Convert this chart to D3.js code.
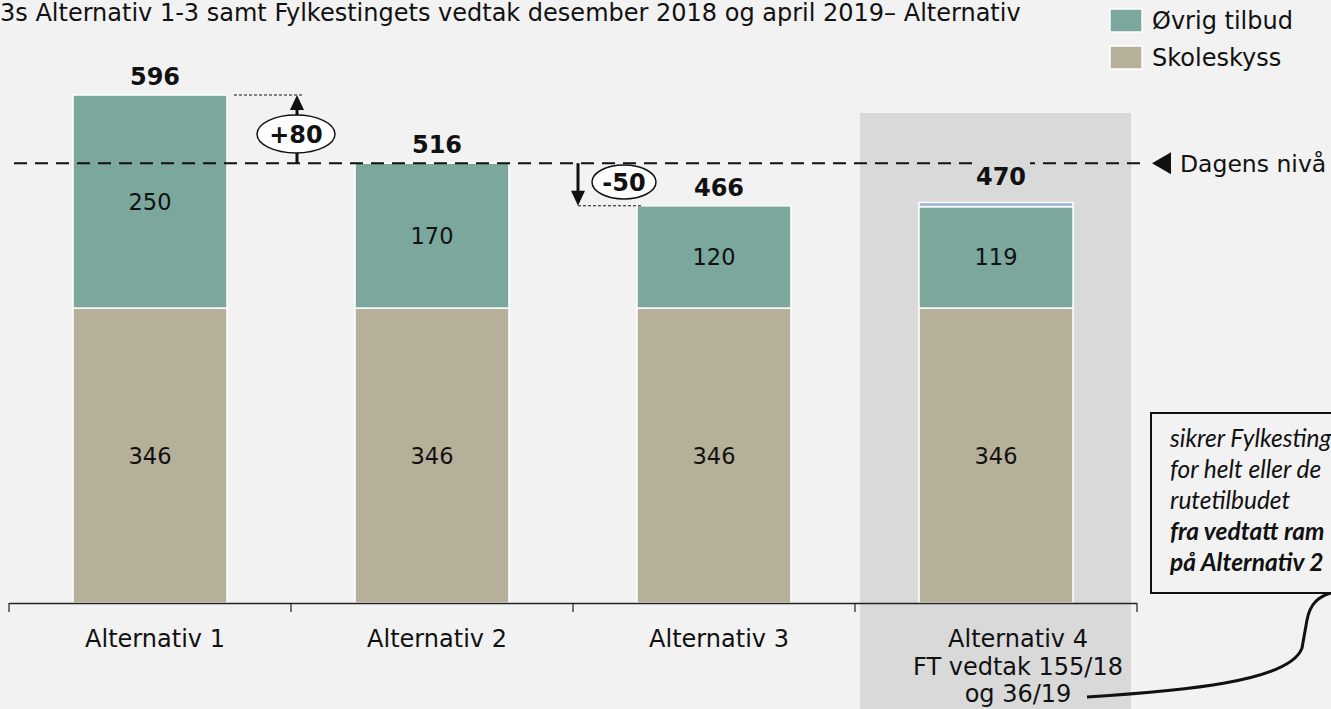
<!DOCTYPE html>
<html>
<head>
<meta charset="utf-8">
<script src="https://cdn.jsdelivr.net/npm/d3@7"></script>
<style>
  body { margin: 0; background: #F2F2F2; overflow: hidden; }
  text { font-family: "DejaVu Sans", Verdana, sans-serif; }
</style>
</head>
<body>
<div id="container"></div>
<script>
let w = 1331;
let h = 709;

// data
let categories = ["Alternativ 1", "Alternativ 2", "Alternativ 3", "Alternativ 4"];
let skoleskyss = [346, 346, 346, 346];
let ovrigTilbud = [250, 170, 120, 119];
let tillegg = [0, 0, 0, 5];
let totals = [596, 516, 466, 470];
let dagensNiva = 516;
let axisLabels = [["Alternativ 1"], ["Alternativ 2"], ["Alternativ 3"], ["Alternativ 4", "FT vedtak 155/18", "og 36/19"]];
let legendLabels = ["Øvrig tilbud", "Skoleskyss"];
let noteLines = [
  { t: "sikrer Fylkesting", b: false },
  { t: "for helt eller de", b: false },
  { t: "rutetilbudet", b: false },
  { t: "fra vedtatt ram", b: true },
  { t: "på Alternativ 2", b: true }
];
let title = "3s Alternativ 1-3 samt Fylkestingets vedtak desember 2018 og april 2019– Alternativ";

let colTeal = "#7BA79D";
let colKhaki = "#B6B09A";
let colBlue = "#9DB9DA";

let viz = d3.select("#container")
  .append("svg")
    .attr("width", w)
    .attr("height", h)
    .style("background-color", "#F2F2F2")
;

let x = d3.scaleBand().domain(categories).range([9, 1137]).padding(0);
let step = x.step();
let barOff = step * 0.227;
let barW = step * 0.546;
let y = d3.scaleLinear().domain([0, 596]).range([603, 95]);

let rows = categories.map((c, i) => ({ cat: c, skole: skoleskyss[i], ovrig: ovrigTilbud[i], extra: tillegg[i] }));
let series = d3.stack().keys(["skole", "ovrig", "extra"])(rows);
let fills = { skole: colKhaki, ovrig: colTeal, extra: colBlue };

// highlight behind alternativ 4
viz.append("rect")
    .attr("x", x(categories[3]) + 5)
    .attr("y", 113)
    .attr("width", step - 11)
    .attr("height", h - 113)
    .attr("fill", "#D9D9D9")
;

// title
viz.append("text")
    .attr("x", 0)
    .attr("y", 21)
    .attr("font-size", 24)
    .attr("fill", "#111")
    .text(title)
;

// bars
let layers = viz.selectAll(".layer").data(series).enter()
  .append("g")
    .attr("class", "layer")
    .attr("fill", d => fills[d.key])
;
layers.selectAll("rect").data(d => d.filter(s => s[1] > s[0])).enter()
  .append("rect")
    .attr("x", d => x(d.data.cat) + barOff)
    .attr("y", d => y(d[1]))
    .attr("width", barW)
    .attr("height", d => y(d[0]) - y(d[1]))
    .attr("stroke", "white")
    .attr("stroke-width", 1.5)
;

// segment labels
series.slice(0, 2).forEach(s => {
  viz.selectAll(null).data(s).enter()
    .append("text")
      .attr("x", d => x(d.data.cat) + step / 2)
      .attr("y", d => (y(d[0]) + y(d[1])) / 2)
      .attr("dy", "0.36em")
      .attr("text-anchor", "middle")
      .attr("font-size", 22.5)
      .attr("fill", "#111")
      .text(d => d[1] - d[0])
  ;
});

// dagens niva line
viz.append("line")
    .attr("x1", 14).attr("x2", 1143)
    .attr("y1", y(dagensNiva)).attr("y2", y(dagensNiva))
    .attr("stroke", "#111")
    .attr("stroke-width", 2)
    .attr("stroke-dasharray", "13,8")
;
viz.append("path")
    .attr("d", `M1152,${y(dagensNiva)} L1171,${y(dagensNiva) - 11} L1171,${y(dagensNiva) + 11} Z`)
    .attr("fill", "#111")
;
viz.append("text")
    .attr("x", 1180)
    .attr("y", y(dagensNiva))
    .attr("dy", "0.36em")
    .attr("font-size", 23.5)
    .attr("fill", "#111")
    .text("Dagens nivå")
;

// total labels
viz.append("rect")
    .attr("x", x(categories[3]) + step / 2 - 24)
    .attr("y", 152)
    .attr("width", 58)
    .attr("height", 38)
    .attr("fill", "#D9D9D9")
;
viz.selectAll(".total").data(totals).enter()
  .append("text")
    .attr("class", "total")
    .attr("x", (d, i) => x(categories[i]) + step / 2 + 5)
    .attr("y", (d, i) => y(d) - (i == 3 ? 17 : 10))
    .attr("text-anchor", "middle")
    .attr("font-size", 24)
    .attr("font-weight", "bold")
    .attr("fill", "#111")
    .text(d => d)
;

// change annotations
function change(i, ax, cx, cy, rx, ry) {
  let tip = y(totals[i]);
  let base = y(dagensNiva);
  let up = totals[i] > dagensNiva;
  let dir = up ? 1 : -1;
  viz.append("line")
      .attr("x1", up ? x(categories[i]) + barOff + barW + 7 : ax)
      .attr("x2", up ? ax + 6 : x(categories[i]) + barOff + 5)
      .attr("y1", tip).attr("y2", tip)
      .attr("stroke", "#111")
      .attr("stroke-width", 1)
      .attr("stroke-dasharray", "3,2")
  ;
  viz.append("line")
      .attr("x1", ax).attr("x2", ax)
      .attr("y1", base).attr("y2", tip + dir * 12)
      .attr("stroke", "#111")
      .attr("stroke-width", 3)
  ;
  viz.append("path")
      .attr("d", `M${ax},${tip} L${ax - 7},${tip + dir * 15} L${ax + 7},${tip + dir * 15} Z`)
      .attr("fill", "#111")
  ;
  viz.append("ellipse")
      .attr("cx", cx).attr("cy", cy)
      .attr("rx", rx).attr("ry", ry)
      .attr("fill", "white")
      .attr("stroke", "#111")
      .attr("stroke-width", 1.5)
  ;
  let diff = totals[i] - dagensNiva;
  viz.append("text")
      .attr("x", cx).attr("y", cy)
      .attr("dy", "0.36em")
      .attr("text-anchor", "middle")
      .attr("font-size", 24)
      .attr("font-weight", "bold")
      .attr("fill", "#111")
      .text((diff > 0 ? "+" : "") + diff)
  ;
}
change(0, 297, 296, 134, 39, 19);
change(2, 578, 624, 182, 32, 17);

// axis
let bounds = categories.map(c => x(c)).concat([x.range()[1]]);
viz.append("line")
    .attr("x1", bounds[0]).attr("x2", bounds[bounds.length - 1])
    .attr("y1", 603.5).attr("y2", 603.5)
    .attr("stroke", "#222")
    .attr("stroke-width", 1.5)
;
viz.selectAll(".tick").data(bounds).enter()
  .append("line")
    .attr("x1", d => d).attr("x2", d => d)
    .attr("y1", 603).attr("y2", 612)
    .attr("stroke", "#222")
    .attr("stroke-width", 1.2)
;
let lab = viz.selectAll(".xlab").data(axisLabels).enter()
  .append("text")
    .attr("class", "xlab")
    .attr("x", (d, i) => x(categories[i]) + step / 2 + (i == 3 ? 22 : 5))
    .attr("y", 647)
    .attr("text-anchor", "middle")
    .attr("font-size", 24)
    .attr("fill", "#111")
;
lab.selectAll("tspan").data(d => d).enter()
  .append("tspan")
    .attr("x", function() { return this.parentNode.getAttribute("x"); })
    .attr("dy", (d, j) => j == 0 ? 0 : 27.5)
    .text(d => d)
;

// legend
let leg = viz.selectAll(".legend").data(legendLabels).enter()
  .append("g")
    .attr("class", "legend")
    .attr("transform", (d, i) => `translate(1110, ${9 + i * 37})`)
;
leg.append("rect")
    .attr("width", 32)
    .attr("height", 23)
    .attr("fill", (d, i) => i == 0 ? colTeal : colKhaki)
    .attr("stroke", "white")
    .attr("stroke-width", 1.5)
;
leg.append("text")
    .attr("x", 42)
    .attr("y", 11.5)
    .attr("dy", "0.36em")
    .attr("font-size", 24)
    .attr("fill", "#111")
    .text(d => d)
;

// note box + connector
viz.append("path")
    .attr("d", "M1087,697 C1180,691 1290,682 1302,648 L1307,620 C1310,604 1318,596 1334,592")
    .attr("fill", "none")
    .attr("stroke", "#111")
    .attr("stroke-width", 3)
;
viz.append("rect")
    .attr("x", 1151)
    .attr("y", 413)
    .attr("width", 220)
    .attr("height", 180)
    .attr("fill", "#F2F2F2")
    .attr("stroke", "#111")
    .attr("stroke-width", 2)
;
viz.selectAll(".note").data(noteLines).enter()
  .append("text")
    .attr("class", "note")
    .attr("x", 1170)
    .attr("y", (d, i) => 447 + i * 31)
    .attr("font-size", 24.5)
    .attr("font-style", "italic")
    .attr("font-weight", d => d.b ? "bold" : "normal")
    .style("font-family", "Lato, 'Open Sans', sans-serif")
    .attr("fill", "#111")
    .text(d => d.t)
;
</script>
</body>
</html>
